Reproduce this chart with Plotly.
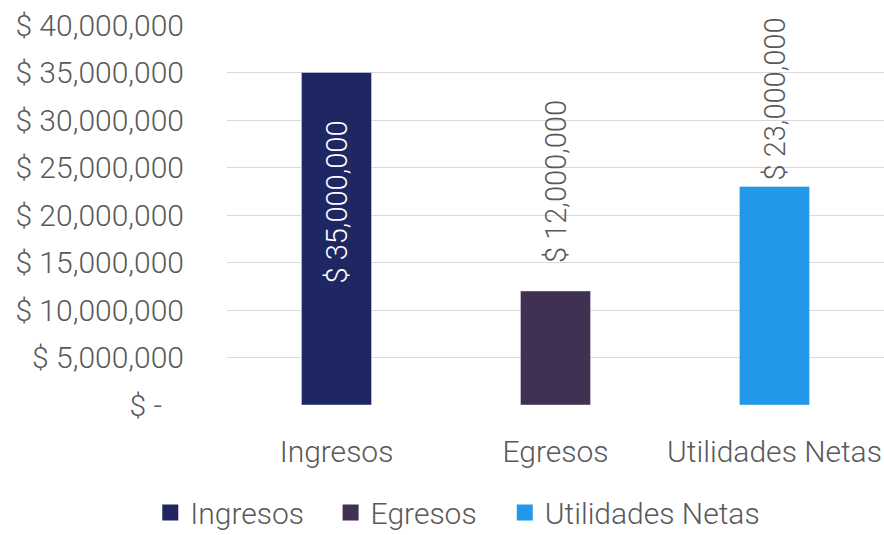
import plotly.graph_objects as go

categories = ["Ingresos", "Egresos", "Utilidades Netas"]
values = [35000000, 12000000, 23000000]
colors = ["#1E2761", "#403152", "#2299E8"]
tick_vals = [0, 5000000, 10000000, 15000000, 20000000, 25000000, 30000000, 35000000, 40000000]
tick_text = ["$ -\u00a0\u00a0\u00a0", "$ 5,000,000", "$ 10,000,000", "$ 15,000,000", "$ 20,000,000",
             "$ 25,000,000", "$ 30,000,000", "$ 35,000,000", "$ 40,000,000"]
label_text = ["$ 35,000,000", "$ 12,000,000", "$ 23,000,000"]

FONT = "Roboto"
GRAY = "#595959"

legend_ids = ["legend", "legend2", "legend3"]
legend_x = [0.170, 0.374, 0.571]

fig = go.Figure()
for c, v, col in zip(categories, values, colors):
    fig.add_trace(go.Bar(x=[c], y=[v], name=c, marker_color=col, width=0.32,
                         showlegend=False))
# legend entries with larger square swatches
for c, col, lid in zip(categories, colors, legend_ids):
    fig.add_trace(go.Scatter(x=[None], y=[None], mode="markers", name=c, legend=lid,
                             marker=dict(symbol="square", size=20, color=col)))

# data labels
label_cfg = [("top", -46, "white"), ("bottom", 26, GRAY), ("bottom", 4, GRAY)]
for c, v, t, (anch, shift, col) in zip(categories, values, label_text, label_cfg):
    fig.add_annotation(x=c, y=v, text=t, textangle=-90, showarrow=False,
                       yanchor=anch, yshift=shift,
                       font=dict(family=FONT, size=29, color=col, weight=300))

legend_style = dict(orientation="h", xref="container", yref="container",
                    xanchor="left", y=0.042, yanchor="middle",
                    font=dict(family=FONT, size=30, color=GRAY, weight=300),
                    itemwidth=30, itemsizing="trace", bgcolor="rgba(0,0,0,0)")

fig.update_layout(
    width=884, height=535,
    margin=dict(l=227, r=0, t=25, b=130, autoexpand=False),
    paper_bgcolor="white", plot_bgcolor="white",
    font=dict(family=FONT, size=30, color=GRAY, weight=300),
    barmode="overlay",
    showlegend=True,
    legend=dict(x=legend_x[0], **legend_style),
    legend2=dict(x=legend_x[1], **legend_style),
    legend3=dict(x=legend_x[2], **legend_style),
)
fig.update_yaxes(range=[0, 40000000], tickvals=tick_vals, ticktext=tick_text,
                 showgrid=True, gridcolor="#D9D9D9", gridwidth=1.3,
                 zeroline=False, showline=False, ticks="", automargin=False,
                 ticklabelstandoff=42,
                 tickfont=dict(family=FONT, size=30, color=GRAY, weight=300))
fig.update_xaxes(categoryorder="array", categoryarray=categories,
                 showline=False, ticks="", ticklabelstandoff=26, automargin=False,
                 tickfont=dict(family=FONT, size=30, color=GRAY, weight=300))

# remove the default page margin so the 884x535 figure fills the window exactly
fig.write_html("out.html", config={"displayModeBar": False},
               post_script="document.body.style.margin='0';document.body.style.overflow='hidden';")
